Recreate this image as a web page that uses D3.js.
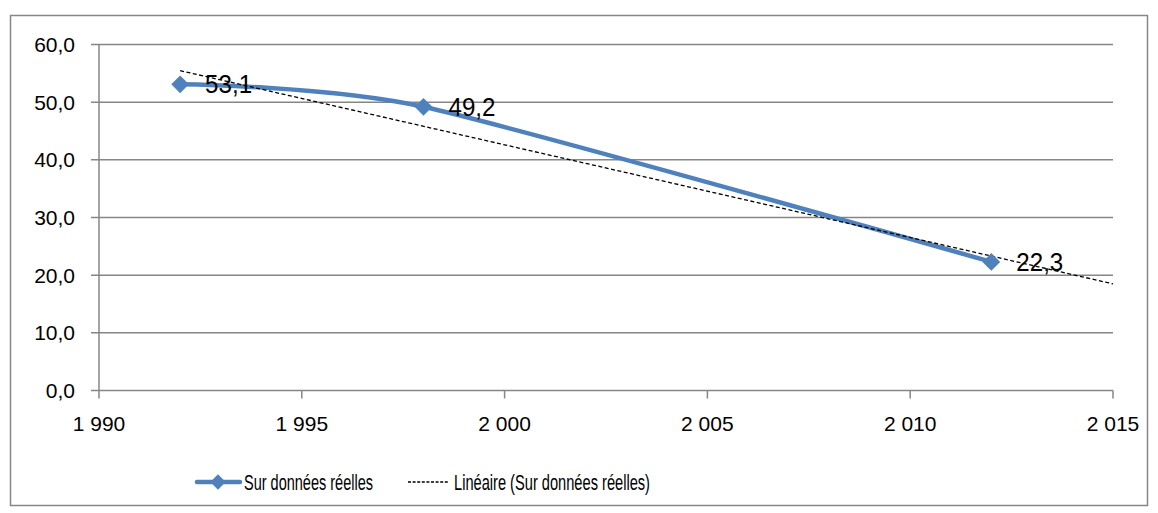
<!DOCTYPE html>
<html>
<head>
<meta charset="utf-8">
<script src="https://cdn.jsdelivr.net/npm/d3@7"></script>
<style>
  body { margin: 0; background: #fff; }
  text { font-family: "Liberation Sans", Arial, sans-serif; fill: #000; }
</style>
</head>
<body>
<svg id="chart" width="1158" height="513"></svg>
<script>
// data
const years = [1992, 1998, 2012];
const values = [53.1, 49.2, 22.3];
const yTicks = [0, 10, 20, 30, 40, 50, 60];
const xTicks = [1990, 1995, 2000, 2005, 2010, 2015];
const seriesName = "Sur données réelles";
const trendName = "Linéaire (Sur données réelles)";

const svg = d3.select("#chart");
const blue = "#4F81BD", grid = "#868686";

let x = d3.scaleLinear().domain([1990, 2015]).range([99, 1113]);
let y = d3.scaleLinear().domain([0, 60]).range([390.5, 44.5]);

let fmtY = d => d.toFixed(1).replace(".", ",");
let fmtX = d => String(d).replace(/^(\d)(\d{3})$/, "$1 $2");

// outer frame
svg.append("rect")
    .attr("x", 10.5).attr("y", 15.5)
    .attr("width", 1137).attr("height", 490)
    .attr("fill", "none").attr("stroke", grid).attr("stroke-width", 1.5);

// horizontal grid lines
svg.append("g")
    .selectAll("line")
    .data(yTicks)
    .join("line")
    .attr("x1", 91).attr("x2", x(2015))
    .attr("y1", d => y(d)).attr("y2", d => y(d))
    .attr("stroke", grid).attr("stroke-width", 1.5);

// y axis line
svg.append("line")
    .attr("x1", x(1990)).attr("x2", x(1990))
    .attr("y1", y(60)).attr("y2", y(0) + 8)
    .attr("stroke", grid).attr("stroke-width", 1.5);

// x ticks
svg.append("g")
    .selectAll("line")
    .data(xTicks.slice(1))
    .join("line")
    .attr("x1", d => x(d)).attr("x2", d => x(d))
    .attr("y1", y(0)).attr("y2", y(0) + 8)
    .attr("stroke", grid).attr("stroke-width", 1.5);

svg.append("g")
    .selectAll("text")
    .data(yTicks)
    .join("text")
    .attr("x", 75).attr("y", d => y(d))
    .attr("dy", "0.36em")
    .attr("text-anchor", "end")
    .attr("font-size", 21)
    .text(fmtY);

svg.append("g")
    .selectAll("text")
    .data(xTicks)
    .join("text")
    .attr("x", d => x(d)).attr("y", 423)
    .attr("dy", "0.36em")
    .attr("text-anchor", "middle")
    .attr("font-size", 21)
    .text(fmtX);

// smoothed series line
let pts = years.map((yr, i) => [yr, values[i]]);
let line = d3.line()
    .x(d => x(d[0]))
    .y(d => y(d[1]))
    .curve(d3.curveCardinal.tension(0.3));

svg.append("path")
    .datum(pts)
    .attr("d", line)
    .attr("fill", "none")
    .attr("stroke", blue)
    .attr("stroke-width", 4.5)
    .attr("stroke-linecap", "round");

// linear trend (least squares on the data), from the first year to 2015
let mx = d3.mean(years), my = d3.mean(values);
let slope = d3.sum(years, (v, i) => (v - mx) * (values[i] - my)) / d3.sum(years, v => (v - mx) ** 2);
let trend = t => my + slope * (t - mx);
let trendX = [years[0], 2015];

svg.append("line")
    .attr("x1", x(trendX[0])).attr("y1", y(trend(trendX[0])))
    .attr("x2", x(trendX[1])).attr("y2", y(trend(trendX[1])))
    .attr("stroke", "#000").attr("stroke-width", 1.3)
    .attr("stroke-dasharray", "4,2.5");

// markers
let diamond = d3.symbol().type(d3.symbolDiamond2).size(200);
svg.append("g")
    .selectAll("path")
    .data(pts)
    .join("path")
    .attr("d", diamond)
    .attr("transform", d => "translate(" + x(d[0]) + "," + y(d[1]) + ")")
    .attr("fill", blue);

// data labels
svg.append("g")
    .selectAll("text")
    .data(pts)
    .join("text")
    .attr("x", d => x(d[0]) + 25)
    .attr("y", d => y(d[1]))
    .attr("dy", "0.36em")
    .attr("font-size", 25)
    .attr("textLength", 47).attr("lengthAdjust", "spacingAndGlyphs")
    .text(d => fmtY(d[1]));

// legend
let lg = svg.append("g");
lg.append("line")
    .attr("x1", 197).attr("x2", 240).attr("y1", 482).attr("y2", 482)
    .attr("stroke", blue).attr("stroke-width", 4.5).attr("stroke-linecap", "round");
lg.append("path")
    .attr("d", d3.symbol().type(d3.symbolDiamond2).size(150))
    .attr("transform", "translate(218,482)")
    .attr("fill", blue);
lg.append("text")
    .attr("x", 244).attr("y", 482).attr("dy", "0.36em")
    .attr("font-size", 22)
    .attr("textLength", 129).attr("lengthAdjust", "spacingAndGlyphs")
    .text(seriesName);
lg.append("line")
    .attr("x1", 408).attr("x2", 449).attr("y1", 482).attr("y2", 482)
    .attr("stroke", "#000").attr("stroke-width", 1.3)
    .attr("stroke-dasharray", "3,1.6");
lg.append("text")
    .attr("x", 454).attr("y", 482).attr("dy", "0.36em")
    .attr("font-size", 22)
    .attr("textLength", 196).attr("lengthAdjust", "spacingAndGlyphs")
    .text(trendName);
</script>
</body>
</html>
